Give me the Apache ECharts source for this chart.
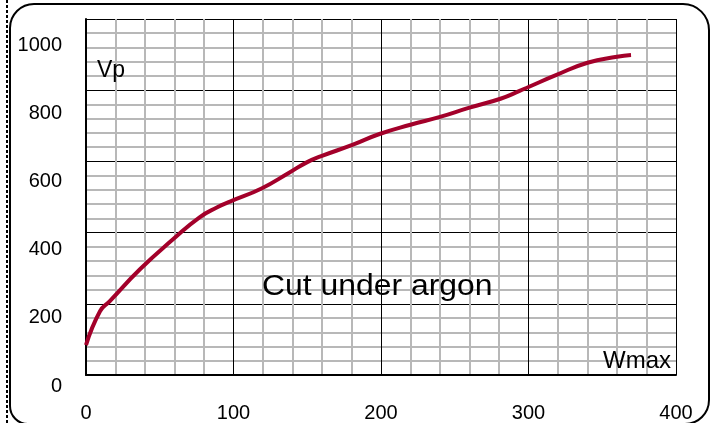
<!DOCTYPE html>
<html>
<head>
<meta charset="utf-8">
<script src="https://cdn.jsdelivr.net/npm/echarts@6/dist/echarts.min.js"></script>
<style>
html,body{margin:0;padding:0;background:#fff;}
#c{width:716px;height:423px;}
</style>
</head>
<body>
<div id="c"></div>
<script>
// Data (W on x, Vp on y)
const wValues = [0, 9.5, 16, 36.6, 59, 77, 89, 97.6, 119, 138, 150, 159, 181, 199, 220, 240, 260, 281, 294, 300, 319, 340, 360, 369.5];
const vpValues = [84, 179, 207, 297, 381, 443, 471, 487, 524, 569, 598, 614, 647, 677, 703, 725, 751, 776, 798, 809, 843, 877, 894, 899];
const xTicks = [0, 100, 200, 300, 400];
const yTicks = [0, 200, 400, 600, 800, 1000];
const xName = 'Wmax';
const yName = 'Vp';
const chartNote = 'Cut under argon';

const FONT = "'Liberation Sans', Arial, sans-serif";
const points = wValues.map((w, i) => [w, vpValues[i]]);

const chart = echarts.init(document.getElementById('c'), null, {renderer: 'canvas'});
chart.setOption({
  animation: false,
  backgroundColor: '#fff',
  grid: [
    {left: 86, top: 19, width: 590, height: 357, containLabel: false},
    {left: 86, top: 45, width: 590, height: 341, containLabel: false}
  ],
  xAxis: [
    {
      type: 'value', gridIndex: 0,
      min: xTicks[0], max: xTicks[xTicks.length - 1], interval: 100,
      axisLine: {show: true, onZero: false, lineStyle: {color: '#000', width: 2}},
      axisTick: {show: false},
      minorTick: {show: false, splitNumber: 5},
      splitLine: {show: true, lineStyle: {color: '#000', width: 1}},
      minorSplitLine: {show: true, lineStyle: {color: '#b8b8b8', width: 2}},
      axisLabel: {show: true, margin: 28, fontSize: 20, color: '#000', fontFamily: FONT,
                  formatter: v => String(v)}
    },
    {type: 'value', gridIndex: 1, min: 0, max: 400, show: false}
  ],
  yAxis: [
    {
      type: 'value', gridIndex: 0,
      min: yTicks[0], max: yTicks[yTicks.length - 1], interval: 200,
      axisLine: {show: true, onZero: false, lineStyle: {color: '#000', width: 2}},
      axisTick: {show: false},
      minorTick: {show: false, splitNumber: 5},
      splitLine: {show: true, lineStyle: {color: '#000', width: 1}},
      minorSplitLine: {show: true, lineStyle: {color: '#b8b8b8', width: 2}},
      axisLabel: {show: false}
    },
    {
      type: 'value', gridIndex: 1,
      min: yTicks[0], max: yTicks[yTicks.length - 1], interval: 200,
      axisLine: {show: false}, axisTick: {show: false}, splitLine: {show: false},
      axisLabel: {show: true, margin: 24, fontSize: 20, color: '#000', fontFamily: FONT,
                  formatter: v => String(v)}
    }
  ],
  series: [{
    type: 'line',
    xAxisIndex: 0, yAxisIndex: 0,
    data: points,
    smooth: 0.5,
    showSymbol: false,
    lineStyle: {color: '#a3002a', width: 4},
    z: 5
  }],
  graphic: [
    {type: 'rect', shape: {x: 10, y: 4, width: 699, height: 420, r: [24, 26, 24, 18]},
     style: {fill: 'none', stroke: '#000', lineWidth: 2}, z: 1, silent: true},
    {type: 'line', shape: {x1: 7, y1: 0, x2: 7, y2: 423},
     style: {stroke: '#000', lineWidth: 2, lineDash: [3, 2]}, z: 1, silent: true},
    {type: 'text', x: 97, y: 71, z: 10,
     style: {text: yName, font: "23px " + FONT, fill: '#000', textAlign: 'left', textVerticalAlign: 'middle'}},
    {type: 'text', x: 603, y: 361, z: 10,
     style: {text: xName, font: "24px " + FONT, fill: '#000', textAlign: 'left', textVerticalAlign: 'middle'}},
    {type: 'text', x: 262, y: 287, z: 10, scaleX: 1.1,
     style: {text: chartNote, font: "29px " + FONT, fill: '#000', textAlign: 'left', textVerticalAlign: 'middle'}}
  ]
});
</script>
</body>
</html>
